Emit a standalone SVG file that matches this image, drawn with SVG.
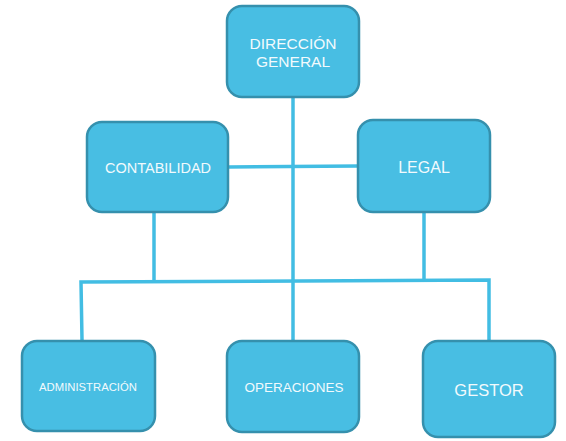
<svg xmlns="http://www.w3.org/2000/svg" width="566" height="441" viewBox="0 0 566 441">
<style>
.box{fill:#48bee3;stroke:#3590ad;stroke-width:2.5}
.lbl{fill:#f2fafd;font-family:"Liberation Sans",Arial,sans-serif;text-anchor:middle}
.con{stroke:#42bde3;stroke-width:3.5;fill:none;stroke-linecap:square}
</style>
<rect width="566" height="441" fill="#ffffff"/>
<g id="connectors">
<line class="con" x1="293" y1="97" x2="293" y2="340"/>
<line class="con" x1="229" y1="167" x2="357" y2="166"/>
<line class="con" x1="154" y1="213" x2="154" y2="281"/>
<line class="con" x1="424" y1="213" x2="424" y2="280"/>
<polyline class="con" points="82,340 81,282 489,280 489,350"/>
</g>
<g id="direccion">
<rect class="box" x="227" y="6" width="132" height="91" rx="15"/>
<text class="lbl" x="293" y="49" font-size="15.5">DIRECCIÓN</text>
<text class="lbl" x="293" y="67" font-size="15.5">GENERAL</text>
</g>
<g id="contabilidad">
<rect class="box" x="87" y="122" width="141" height="90" rx="15"/>
<text class="lbl" x="158" y="173" font-size="14.5">CONTABILIDAD</text>
</g>
<g id="legal">
<rect class="box" x="358" y="120" width="132" height="92" rx="15"/>
<text class="lbl" x="424" y="173" font-size="16">LEGAL</text>
</g>
<g id="administracion">
<rect class="box" x="22" y="341" width="133" height="90" rx="15"/>
<text class="lbl" x="88" y="391" font-size="11.3">ADMINISTRACIÓN</text>
</g>
<g id="operaciones">
<rect class="box" x="227" y="341" width="132" height="91" rx="15"/>
<text class="lbl" x="294" y="392" font-size="13.5">OPERACIONES</text>
</g>
<g id="gestor">
<rect class="box" x="423" y="341" width="132" height="96" rx="15"/>
<text class="lbl" x="489" y="396" font-size="16.5">GESTOR</text>
</g>
</svg>
